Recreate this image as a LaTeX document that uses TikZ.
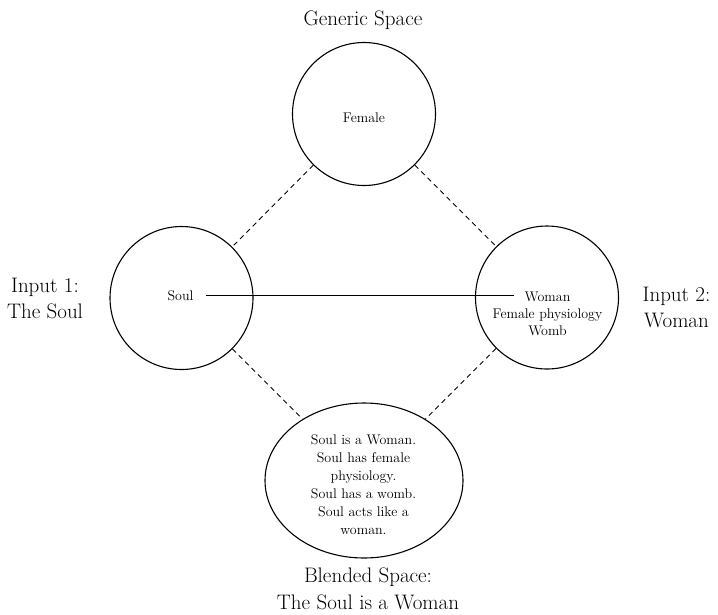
\documentclass[tikz,border=0pt]{standalone}
\usetikzlibrary{shapes.geometric}
\begin{document}
\begin{tikzpicture}[x=1pt,y=-1pt,
  space/.style={draw,circle,line width=1.1pt,inner sep=0pt,minimum size=143pt},
  blendshape/.style={draw,ellipse,line width=1.1pt,inner sep=0pt,minimum width=198pt,minimum height=155pt},
  small/.style={font=\fontsize{14}{17.5}\selectfont,align=center,inner sep=0pt},
  title/.style={font=\fontsize{21}{26.5}\selectfont,align=center,inner sep=0pt},
  mapline/.style={line width=1.1pt},
  crossline/.style={line width=0.9pt,dash pattern=on 5pt off 4pt}]
\useasboundingbox (0,0) rectangle (718,614);

% the four mental spaces
\node[space] (gen) at (364,114) {};
\node[space] (in1) at (181.5,298) {};
\node[space] (in2) at (547,297.5) {};
\node[blendshape] (blend) at (364,480.5) {};

% contents of the spaces
\node[small] (female) at (364,117.5) {Female};
\node[small,anchor=base,inner xsep=12.5pt] (soul) at (180.5,300.5) {Soul};
\node[small,anchor=base,inner xsep=10pt] (wom) at (547.5,301) {Woman};
\node[small] (womdet) at (547.5,322.4) {Female physiology\\Womb};
\node[small,font=\fontsize{14}{18}\selectfont] (blendtxt) at (363.5,484.8)
  {Soul is a Woman.\\Soul has female\\physiology.\\Soul has a womb.\\Soul acts like a\\woman.};

% space titles
\node[title,anchor=base] (gentitle) at (363,25) {Generic Space};
\node[title] (in1title) at (45,298.3) {Input 1:\\The Soul};
\node[title] (in2title) at (676.5,307.7) {Input 2:\\Woman};
\node[title] (blendtitle) at (368,588.7) {Blended Space:\\The Soul is a Woman};

% cross-space mapping
\draw[mapline] (soul.east) -- (soul.east -| wom.west);

% links between generic, input and blended spaces
\draw[crossline] (gen) -- (in1);
\draw[crossline] (gen) -- (in2);
\draw[crossline] (in1) -- (blend);
\draw[crossline] (in2) -- (blend);
\end{tikzpicture}
\end{document}
